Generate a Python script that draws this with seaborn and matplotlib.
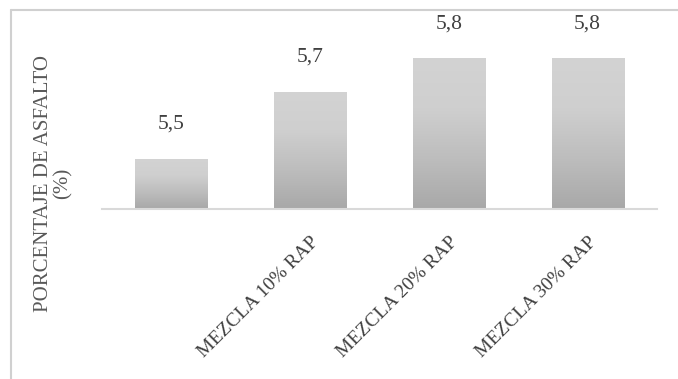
import numpy as np
import pandas as pd
import matplotlib
matplotlib.use("Agg")
import matplotlib.pyplot as plt
from matplotlib.lines import Line2D
import seaborn as sns

# Asphalt content per mix
categories = [" ", "MEZCLA 10% RAP", "MEZCLA 20% RAP", "MEZCLA 30% RAP"]
asphalt_pct = [5.5, 5.7, 5.8, 5.8]
value_labels = ["5,5", "5,7", "5,8", "5,8"]

sns.set_theme(style="white")
plt.rcParams["font.family"] = ["Liberation Serif", "DejaVu Serif"]

TEXT = "#595959"

df = pd.DataFrame({"mezcla": categories, "asfalto": asphalt_pct})

fig = plt.figure(figsize=(6.78, 3.79), dpi=100)
ax = fig.add_axes([0.1504, 0.4485, 0.8186, 0.486])

sns.barplot(data=df, x="mezcla", y="asfalto", color="#bdbdbd", width=0.52,
            ax=ax, edgecolor="none")
ax.set_ylim(5.35, 5.9)
ax.set_xlim(-0.5, len(categories) - 0.5)

# vertical gray gradient inside each bar
grad = np.linspace(0, 1, 256).reshape(-1, 1)
cmap = matplotlib.colors.LinearSegmentedColormap.from_list(
    "bar", ["#a8a8a8", "#bdbdbd", "#cfcfcf", "#d3d3d3"])
for patch in ax.patches:
    x0, y0 = patch.get_x(), patch.get_y()
    w, h = patch.get_width(), patch.get_height()
    y_lo = ax.get_ylim()[0]
    im = ax.imshow(grad, cmap=cmap, aspect="auto", origin="lower",
                   extent=[x0, x0 + w, y_lo, y0 + h], zorder=2)
    im.set_clip_path(patch)
    patch.set_facecolor("none")

# value labels above bars
for i, (v, lab) in enumerate(zip(asphalt_pct, value_labels)):
    ax.annotate(lab, (i, v), xytext=(0, 25), textcoords="offset points",
                ha="center", va="center", fontsize=15.5, color="#404040")

for s in ["top", "right", "left"]:
    ax.spines[s].set_visible(False)
ax.spines["bottom"].set_color("#d9d9d9")
ax.spines["bottom"].set_linewidth(1.5)
ax.set_yticks([])
ax.set_xlabel("")
ax.set_ylabel("")
ax.tick_params(axis="x", length=0, pad=18)
ax.set_xticks(range(len(categories)))
ax.set_xticklabels(categories, rotation=45, ha="right", va="top",
                   rotation_mode="anchor", fontsize=14, color="#404040")

fig.text(0.079, 0.517, "PORCENTAJE DE ASFALTO\n(%)", rotation=90,
         ha="center", va="center", fontsize=15, color=TEXT,
         linespacing=1.0, multialignment="center")

# chart frame (top and left edges)
x_left, y_top = 0.0155, 0.973
fig.add_artist(Line2D([x_left, 1.0], [y_top, y_top], transform=fig.transFigure,
                      color="#d0d0d0", linewidth=1.5))
fig.add_artist(Line2D([x_left, x_left], [0.0, y_top], transform=fig.transFigure,
                      color="#d0d0d0", linewidth=1.5))

fig.savefig("out.png", dpi=100, facecolor="white")
